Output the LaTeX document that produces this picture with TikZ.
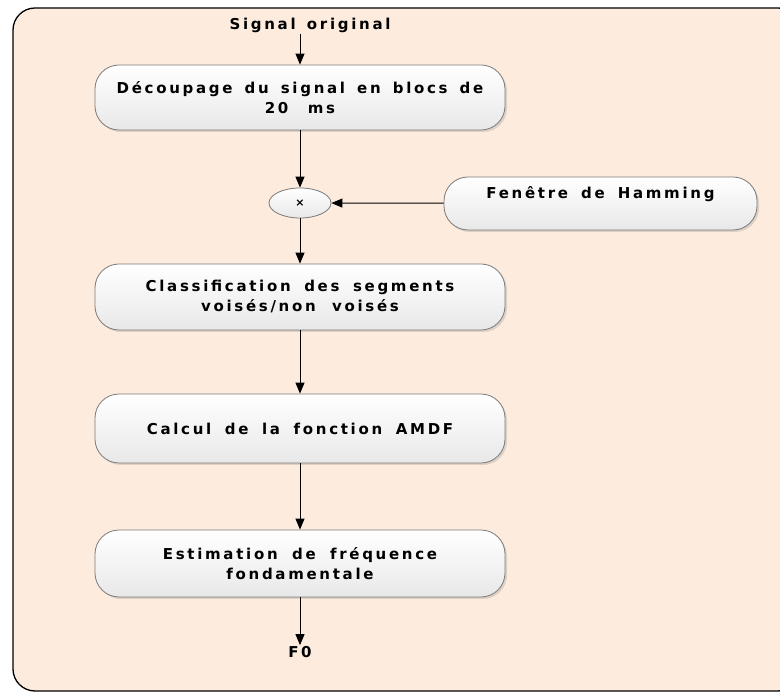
\documentclass[tikz,border=0pt]{standalone}
\usepackage{fontspec}
\setmainfont{DejaVu Sans}
\newfontfamily\widefont[LetterSpace=18]{DejaVu Sans}
\newcommand\boxtextfont{\widefont\bfseries\fontsize{15}{20}\selectfont\spaceskip=0.75em plus 0.1em\relax}
\usetikzlibrary{arrows.meta,shapes.geometric,shadows}
\definecolor{panel}{HTML}{FDEBDD}
\definecolor{boxline}{HTML}{7A7A7A}
\tikzset{
  stepbox/.style={draw=boxline, line width=0.8pt, rounded corners=24pt,
    top color=white, bottom color=black!9, minimum width=410pt,
    text width=400pt, align=center, font=\boxtextfont,
    drop shadow={shadow xshift=2pt, shadow yshift=-2pt, opacity=0.25}},
  mult/.style={ellipse, draw=boxline, line width=0.8pt, top color=white,
    bottom color=black!9, minimum width=62pt, minimum height=30pt,
    inner sep=0pt, font=\bfseries\fontsize{11}{14}\selectfont},
  flow/.style={-{Triangle[length=11pt,width=9pt]}, line width=1pt},
  label/.style={font=\boxtextfont, inner sep=1pt}
}
\begin{document}
\begin{tikzpicture}[x=1pt,y=-1pt]
  \useasboundingbox (0,0) rectangle (780,692);
  % background panel
  \draw[fill=panel, line width=1.3pt, rounded corners=22pt] (13,8) rectangle (800,691);

  \node[label] (sig) at (310,25) {Signal original};
  \node[stepbox, minimum height=65pt] (dec) at (300,97.5)
    {\boxtextfont Découpage du signal en blocs de\\20 ms};
  \node[mult] (x) at (300,203) {×};
  \node[stepbox, minimum width=313pt, text width=300pt, minimum height=53pt] (ham) at (600.5,203.5)
    {\boxtextfont Fenêtre de Hamming\\[-4pt]\strut};
  \node[stepbox, minimum height=66pt] (cls) at (300,297)
    {\boxtextfont Classification des segments\\voisés/non voisés};
  \node[stepbox, minimum height=69pt] (amdf) at (300,428.5)
    {\boxtextfont Calcul de la fonction AMDF};
  \node[stepbox, minimum height=67pt] (est) at (300,563.5)
    {\boxtextfont Estimation de fréquence\\fondamentale};
  \node[label] (f0) at (300,652) {F0};

  \draw[flow] (dec.north |- sig.south) -- (dec);
  \draw[flow] (dec) -- (x);
  \draw[flow] (ham) -- (x);
  \draw[flow] (x) -- (cls);
  \draw[flow] (cls) -- (amdf);
  \draw[flow] (amdf) -- (est);
  \draw[flow] (est) -- (f0);
\end{tikzpicture}
\end{document}
